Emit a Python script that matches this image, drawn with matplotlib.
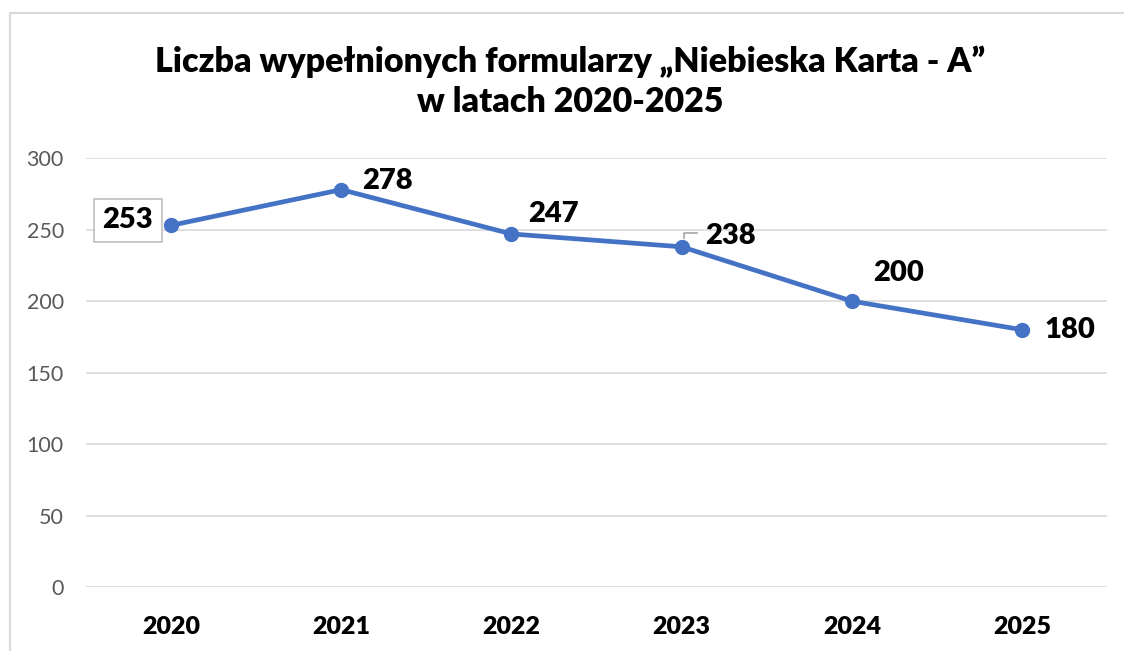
import matplotlib.pyplot as plt
from matplotlib.lines import Line2D

plt.rcParams['font.family'] = ['Lato', 'DejaVu Sans']

years = ['2020', '2021', '2022', '2023', '2024', '2025']
counts = [253, 278, 247, 238, 200, 180]

# label offsets in points (dx, dy) for each data label
label_offsets = [(-13, 3.6), (15, 6.5), (12, 14.5), (17, 8), (15, 20), (16.5, -0.5)]

fig = plt.figure(figsize=(11.24, 6.51), dpi=100)
ax = fig.add_axes([0.0765, 0.0983, 0.9085, 0.6587])

x = range(len(years))
ax.plot(x, counts, color='#4472C4', lw=3.4, marker='o', ms=10, zorder=3)

ax.set_xlim(-0.5, len(years) - 0.5)
ax.set_ylim(0, 300)
ax.set_yticks(range(0, 301, 50))
ax.set_xticks(list(x))
ax.set_xticklabels(years, fontsize=18, fontweight='heavy')
ax.tick_params(axis='y', labelsize=15.5, labelcolor='#595959', length=0, pad=16)
ax.tick_params(axis='x', length=0, pad=21)
ax.grid(axis='y', color='#D9D9D9', lw=1.2)
ax.set_axisbelow(True)
for s in ax.spines.values():
    s.set_visible(False)

for i, (v, off) in enumerate(zip(counts, label_offsets)):
    ha = 'right' if off[0] < 0 else 'left'
    box = None
    if i == 0:
        box = dict(boxstyle='square,pad=0.3', fc='white', ec='#BFBFBF', lw=1.2)
    ax.annotate(str(v), (i, v), xytext=off, textcoords='offset points',
                ha=ha, va='center', fontsize=21, fontweight='heavy', bbox=box)

# small leader line for the 2023 label
fig.canvas.draw()
p0 = ax.transData.transform((3, 238))
lx = [p0[0] + 2, p0[0] + 2, p0[0] + 15]
ly = [p0[1] + 9, p0[1] + 14, p0[1] + 14]
inv = fig.transFigure.inverted()
pts = [inv.transform((a, b)) for a, b in zip(lx, ly)]
fig.add_artist(Line2D([p[0] for p in pts], [p[1] for p in pts],
                      color='#A6A6A6', lw=1.2))

fig.text(0.507, 0.905, 'Liczba wypełnionych formularzy „Niebieska Karta - A”',
         ha='center', va='center', fontsize=24.5, fontweight='heavy')
fig.text(0.507, 0.843, 'w latach 2020-2025',
         ha='center', va='center', fontsize=24.5, fontweight='heavy')

# chart frame
fig.add_artist(Line2D([10 / 1124, 10 / 1124, 1.0], [0, 1 - 13 / 651, 1 - 13 / 651],
                      color='#D9D9D9', lw=1.5))

fig.savefig('out.png', dpi=100)
